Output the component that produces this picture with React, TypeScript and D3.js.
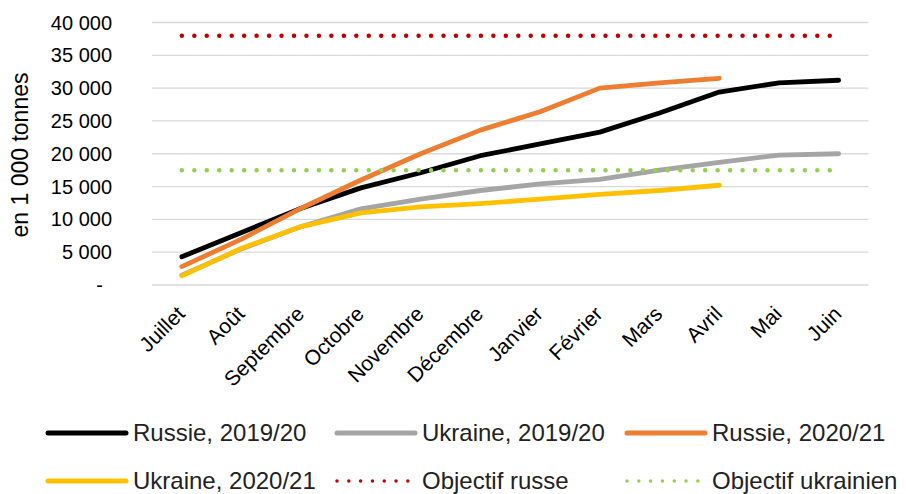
import React from "react";
import * as d3 from "d3";

const months = ["Juillet", "Août", "Septembre", "Octobre", "Novembre", "Décembre", "Janvier", "Février", "Mars", "Avril", "Mai", "Juin"];
const russie1920 = [4300, 8000, 11700, 14800, 17100, 19700, 21500, 23300, 26200, 29400, 30800, 31200];
const ukraine1920 = [1500, 5500, 8900, 11600, 13100, 14400, 15400, 16100, 17500, 18700, 19800, 20000];
const russie2021 = [2800, 7000, 11700, 16000, 20000, 23600, 26400, 30000, 30800, 31500];
const ukraine2021 = [1400, 5600, 8900, 11000, 11900, 12400, 13100, 13800, 14400, 15200];
const objectifRusse = 38000;
const objectifUkrainien = 17500;
const yTicks = [0, 5000, 10000, 15000, 20000, 25000, 30000, 35000, 40000];

const FONT = "'Liberation Sans', Arial, sans-serif";

type Series = { name: string; values: number[]; color: string; dotted?: boolean };

const series: Series[] = [
  { name: "Russie, 2019/20", values: russie1920, color: "#000000" },
  { name: "Ukraine, 2019/20", values: ukraine1920, color: "#A5A5A5" },
  { name: "Russie, 2020/21", values: russie2021, color: "#ED7D31" },
  { name: "Ukraine, 2020/21", values: ukraine2021, color: "#FFC000" },
  { name: "Objectif russe", values: months.map(() => objectifRusse), color: "#C00000", dotted: true },
  { name: "Objectif ukrainien", values: months.map(() => objectifUkrainien), color: "#92D050", dotted: true },
];

export default function App() {
  const W = 906, H = 494;
  const left = 152, right = 868.5, top = 22.5, bottom = 285;
  const x = d3.scaleBand<string>().domain(months).range([left, right]);
  const cx = (m: string) => (x(m) as number) + x.bandwidth() / 2;
  const y = d3.scaleLinear().domain([0, 40000]).range([bottom, top]);
  const fmt = (v: number) => (v === 0 ? "-" : d3.format(",")(v).replace(/,/g, " "));
  const line = (vals: number[]) =>
    d3.line<number>().x((_, i) => cx(months[i])).y((d) => y(d))(vals) || "";

  const legendCols = [46, 335, 625];
  const legendRows = [433, 481];

  return (
    <svg width={W} height={H} style={{ position: "absolute", left: 0, top: 0, background: "#fff" }} fontFamily={FONT}>
      {yTicks.map((t) => (
        <g key={t}>
          <line x1={left} x2={right} y1={y(t)} y2={y(t)} stroke="#D9D9D9" strokeWidth={1.3} />
          <text x={t === 0 ? 103 : 112} y={y(t)} dy="0.35em" textAnchor="end" fontSize={20} fill="#000">
            {fmt(t)}
          </text>
        </g>
      ))}
      <text transform={`translate(28,155) rotate(-90)`} textAnchor="middle" fontSize={23} fill="#000">
        en 1 000 tonnes
      </text>
      {months.map((m) => (
        <text key={m} transform={`translate(${cx(m) - 1},${310}) rotate(-45)`} textAnchor="end" dy="0.35em" fontSize={21} fill="#000">
          {m}
        </text>
      ))}
      {series.map((s) => (
        <path
          key={s.name}
          d={line(s.values)}
          fill="none"
          stroke={s.color}
          strokeWidth={s.dotted ? 4.5 : 4.8}
          strokeLinecap="round"
          strokeLinejoin="round"
          strokeDasharray={s.dotted ? "0.01 12.45" : undefined}
        />
      ))}
      {series.map((s, i) => {
        const lx = legendCols[i % 3];
        const ly = legendRows[Math.floor(i / 3)];
        return (
          <g key={"lg" + s.name}>
            <line
              x1={lx + 2}
              x2={lx + 80}
              y1={ly}
              y2={ly}
              stroke={s.color}
              strokeWidth={s.dotted ? 3.5 : 5}
              strokeLinecap="round"
              strokeDasharray={s.dotted ? "0.01 11.8" : undefined}
            />
            <text x={lx + 87} y={ly} dy="0.35em" fontSize={24} fill="#222">
              {s.name}
            </text>
          </g>
        );
      })}
    </svg>
  );
}
